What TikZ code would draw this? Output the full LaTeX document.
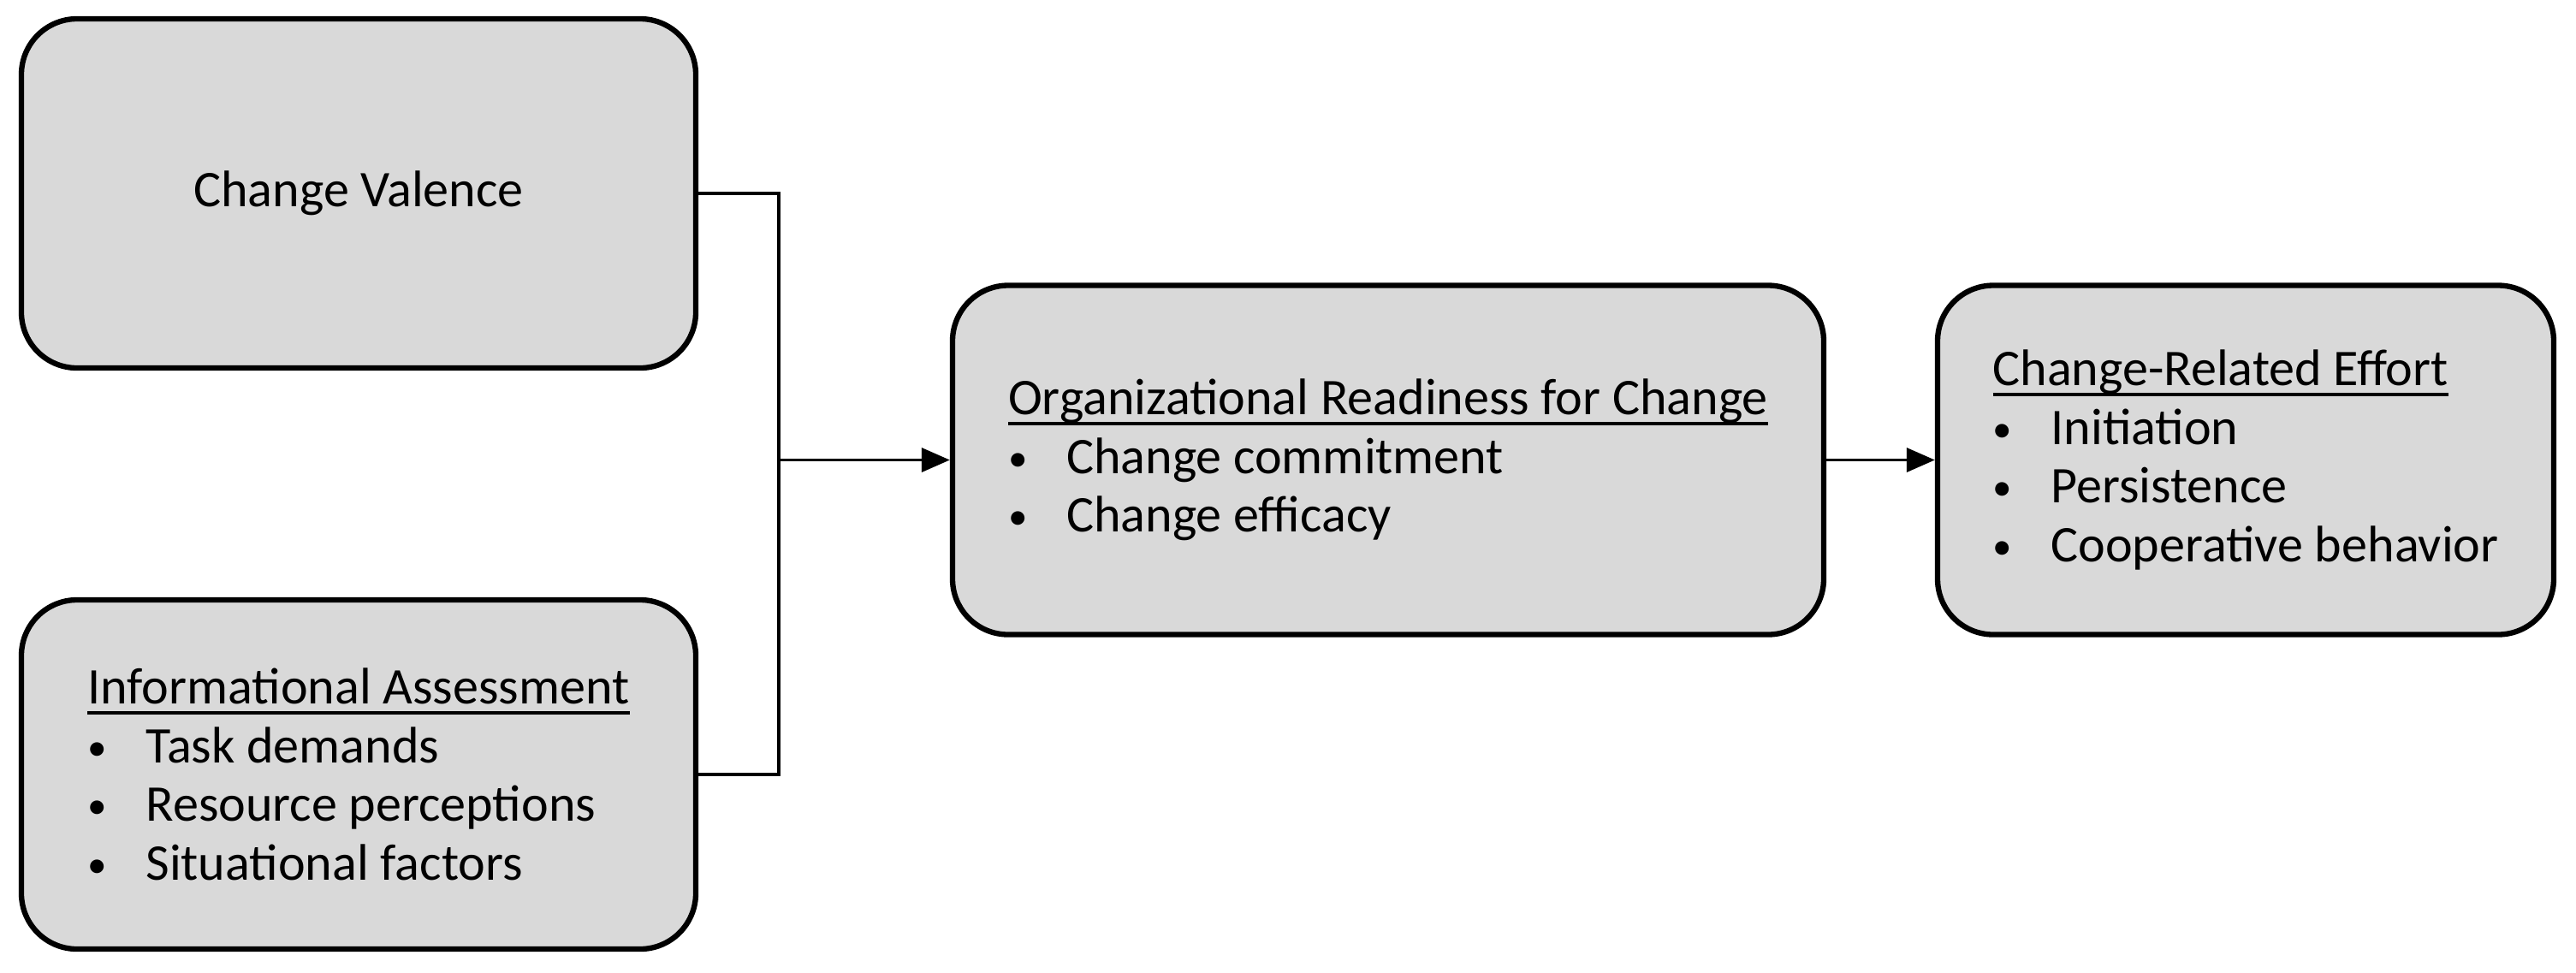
\documentclass[tikz,border=0pt]{standalone}
\usepackage{fontspec}
\setmainfont{Carlito}
\usetikzlibrary{arrows.meta}
\newcommand{\headline}[1]{\setbox0\hbox{#1}\rlap{\rule[-0.21em]{\wd0}{0.07em}}\box0}
\newcommand{\bitem}[1]{\makebox[0.68cm][l]{\raisebox{0.05em}{\scalebox{0.75}{\textbullet}}}#1}
\begin{document}
\begin{tikzpicture}[
  factor/.style={draw, line width=1.8pt, fill=black!15, rounded corners=0.65cm,
    align=left, font=\fontsize{17.1}{19.5}\selectfont, minimum height=4.08cm},
  link/.style={line width=1pt},
  >={Triangle[length=0.33cm, width=0.28cm]}
]
  \useasboundingbox (0,0) rectangle (30.10,-11.36);
  \node[factor, minimum width=7.88cm] (valence) at (4.19,-2.26) {Change Valence};
  \node[factor, minimum width=7.88cm] (info) at (4.19,-9.05)
    {\headline{Informational Assessment}\\
     \bitem{Task demands}\\
     \bitem{Resource perceptions}\\
     \bitem{Situational factors}};
  \node[factor, minimum width=10.18cm] (readiness) at (16.22,-5.375)
    {\headline{Organizational Readiness for Change}\\
     \bitem{Change commitment}\\
     \bitem{Change efficacy}};
  \node[factor, minimum width=7.2cm] (effort) at (26.24,-5.375)
    {\headline{Change-Related Effort}\\
     \bitem{Initiation}\\
     \bitem{Persistence}\\
     \bitem{Cooperative behavior}};
  \coordinate (join) at (9.10,-5.375);
  % antecedents merge into readiness
  \draw[link] (valence.east) -| (join) |- (info.east);
  \draw[link, ->] (join) -- (readiness.west);
  \draw[link, ->] (readiness.east) -- (effort.west);
\end{tikzpicture}
\end{document}
